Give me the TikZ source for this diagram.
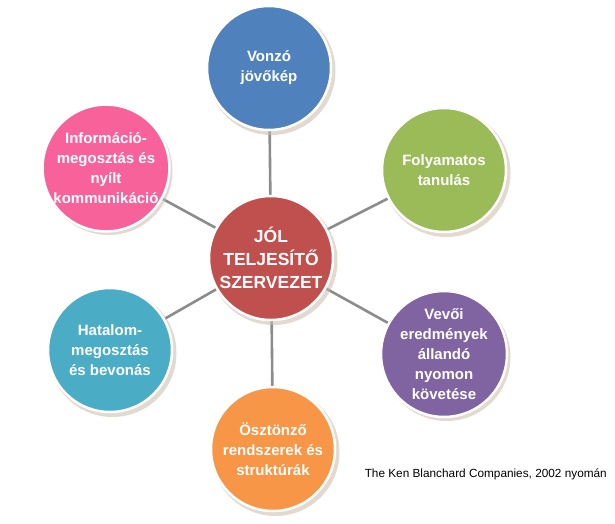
\documentclass[tikz,border=0pt]{standalone}
\usepackage{fontspec}
\setmainfont{Liberation Sans}
\begin{document}
\begin{tikzpicture}[x=1pt,y=-1pt,
  bubble/.style={circle, minimum size=124pt, inner sep=0pt, fill=#1,
    draw=white, line width=2.5pt, text=white, align=center,
    font=\fontsize{15}{20}\selectfont\bfseries},
  shade/.style={circle, minimum size=128pt, inner sep=0pt, fill=black!35!brown!40, opacity=0.55},
  link/.style={draw=gray!90, line width=2.6pt}]
\useasboundingbox (0,0) rectangle (615,523);
\definecolor{cblue}{HTML}{4F81BD}
\definecolor{cred}{HTML}{C0504D}
\definecolor{cgreen}{HTML}{9BBB59}
\definecolor{cpurple}{HTML}{8064A2}
\definecolor{cteal}{HTML}{4BACC6}
\definecolor{corange}{HTML}{F79646}
\definecolor{cpink}{HTML}{F7629A}
% coordinates
\coordinate (pc) at (271,258);
\coordinate (pt) at (269,68);
\coordinate (pr) at (444,170);
\coordinate (pl) at (106,168);
\coordinate (pbl) at (110,350);
\coordinate (pbr) at (444,354);
\coordinate (pb) at (273,449);
% connectors
\draw[link] (pc) -- (pt);
\draw[link] (pc) -- (pr);
\draw[link] (pc) -- (pl);
\draw[link] (pc) -- (pbl);
\draw[link] (pc) -- (pbr);
\draw[link] (pc) -- (pb);
% shadows
\foreach \p in {pc,pt,pr,pl,pbl,pbr,pb}
  \node[shade] at ([shift={(2.5,3)}]\p) {};
% bubbles
\node[bubble=cblue] (top) at (pt) {Vonzó\\jövőkép};
\node[bubble=cgreen] (right) at (pr) {Folyamatos\\tanulás};
\node[bubble=cpink] (left) at (pl) {Információ-\\megosztás és\\nyílt\\kommunikáció};
\node[bubble=cteal] (bleft) at (pbl) {Hatalom-\\megosztás\\és bevonás};
\node[bubble=cpurple] (bright) at (pbr) {Vevői\\eredmények\\állandó\\nyomon\\követése};
\node[bubble=corange] (bottom) at (pb) {Ösztönző\\rendszerek és\\struktúrák};
\node[bubble=cred, font=\fontsize{17.5}{23}\selectfont\bfseries] (center) at (pc) {JÓL\\TELJESÍTŐ\\SZERVEZET};
\node[anchor=base east, font=\fontsize{11.8}{13}\selectfont, inner sep=0pt] (credit) at (607,477) {The Ken Blanchard Companies, 2002 nyomán};
\end{tikzpicture}
\end{document}
